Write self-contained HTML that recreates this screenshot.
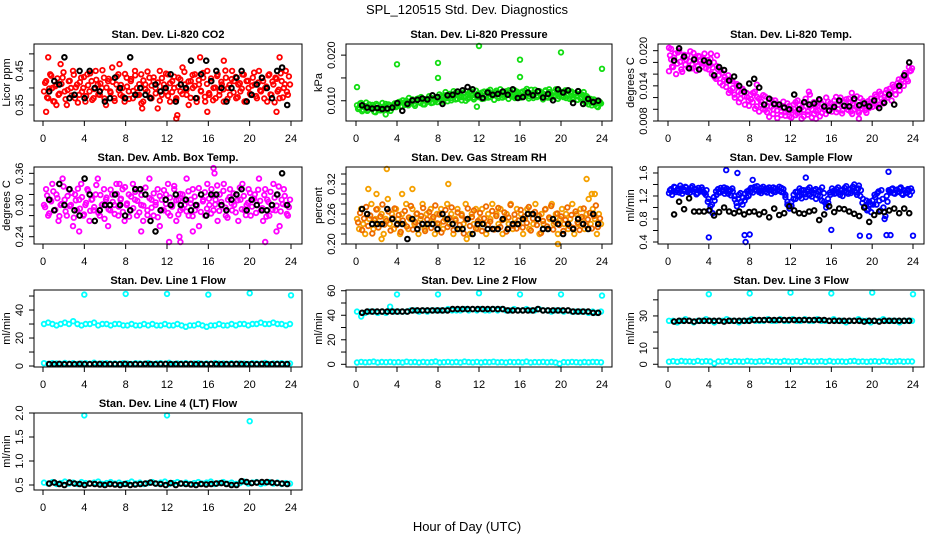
<!DOCTYPE html>
<html><head><meta charset="utf-8"><title>SPL_120515 Std. Dev. Diagnostics</title>
<style>
html,body{margin:0;padding:0;background:#fff;}
svg{display:block;font-family:"Liberation Sans",Arial,sans-serif;}
</style></head>
<body>
<svg id="chart" width="936" height="540" viewBox="0 0 936 540" xmlns="http://www.w3.org/2000/svg">
<rect x="0" y="0" width="936" height="540" fill="#fff"/>
<text x="467" y="14" font-size="13" text-anchor="middle">SPL_120515  Std. Dev. Diagnostics</text>
<text x="467" y="531" font-size="13" text-anchor="middle">Hour of Day (UTC)</text>
</svg>
<script>
// ---------- data ----------
const xTicks = [0,4,8,12,16,20,24];
// CO2
const co2Red = [0.39,0.42,0.37,0.44,0.40,0.36,0.41,0.38,0.47,0.43,0.39,0.35,0.42,0.40,0.45,0.37,0.41,0.38,0.43,0.40,
0.36,0.44,0.39,0.42,0.37,0.45,0.41,0.38,0.40,0.43,0.35,0.42,0.39,0.46,0.37,0.41,0.44,0.38,0.40,0.36,
0.43,0.39,0.42,0.37,0.45,0.40,0.38,0.44,0.36,0.41,0.39,0.43,0.37,0.42,0.40,0.34,0.45,0.38,0.41,0.39,
0.44,0.36,0.42,0.40,0.37,0.43,0.39,0.46,0.41,0.38,0.35,0.42,0.40,0.44,0.37,0.41,0.39,0.43,0.36,0.45,
0.38,0.42,0.40,0.37,0.44,0.39,0.41,0.36,0.43,0.40,0.38,0.45,0.42,0.37,0.41,0.39,0.44,0.36,0.42,0.40,
0.38,0.43,0.41,0.37,0.45,0.39,0.42,0.40,0.36,0.44,0.38,0.41,0.43,0.39,0.37,0.42,0.40,0.45,0.38,0.41];
const co2Red2 = [0.415,0.372,0.398,0.436,0.361,0.405,0.428,0.383,0.412,0.446,0.367,0.394,0.421,0.378,0.439,0.402,0.357,0.417,0.389,0.432,
0.376,0.408,0.443,0.365,0.397,0.424,0.381,0.413,0.452,0.369,0.401,0.427,0.386,0.418,0.362,0.434,0.393,0.409,0.375,0.441,
0.404,0.368,0.426,0.391,0.437,0.379,0.411,0.355,0.422,0.396,0.448,0.373,0.407,0.431,0.384,0.416,0.363,0.429,0.399,0.442,
0.377,0.414,0.388,0.433,0.366,0.403,0.425,0.382,0.447,0.395,0.419,0.371,0.438,0.406,0.359,0.423,0.392,0.444,0.374,0.412,
0.385,0.428,0.364,0.401,0.435,0.379,0.418,0.396,0.451,0.368,0.409,0.426,0.387,0.432,0.373,0.414,0.398,0.439,0.361,0.421,
0.383,0.407,0.445,0.376,0.416,0.393,0.429,0.369,0.404,0.437,0.381,0.419,0.358,0.427,0.395,0.443,0.372,0.411,0.389,0.434];
const co2OutH = [0.3,0.5,1.3,7.4,9.6,12.9,13.0,15.2,15.9,17.5,22.6,22.9];
const co2OutV = [0.33,0.49,0.35,0.47,0.34,0.31,0.32,0.49,0.33,0.48,0.33,0.49];
const co2Black = [0.39,0.42,0.41,0.49,0.37,0.38,0.45,0.37,0.45,0.40,0.39,0.36,0.37,0.43,0.40,0.37,0.49,0.38,0.40,0.38,0.37,0.41,0.39,0.40,0.44,0.36,0.41,0.40,0.48,0.37,0.44,0.48,0.42,0.45,0.40,0.36,0.40,0.43,0.45,0.36,0.38,0.41,0.43,0.40,0.37,0.45,0.46,0.35];
// Pressure
const presGreen = [0.0090,0.0085,0.0095,0.0080,0.0088,0.0078,0.0092,0.0083,0.0087,0.0075,0.0090,0.0082,0.0086,0.0079,0.0093,0.0081,0.0088,0.0084,0.0091,0.0086,
0.0092,0.0098,0.0088,0.0095,0.0100,0.0090,0.0097,0.0103,0.0093,0.0099,0.0105,0.0095,0.0101,0.0092,0.0104,0.0098,0.0107,0.0096,0.0102,0.0108,
0.0105,0.0110,0.0098,0.0112,0.0106,0.0115,0.0101,0.0109,0.0117,0.0104,0.0112,0.0108,0.0118,0.0100,0.0113,0.0107,0.0120,0.0103,0.0111,0.0116,
0.0110,0.0118,0.0105,0.0114,0.0121,0.0108,0.0116,0.0112,0.0122,0.0106,0.0115,0.0119,0.0109,0.0117,0.0123,0.0111,0.0114,0.0106,0.0120,0.0113,
0.0118,0.0108,0.0122,0.0114,0.0110,0.0124,0.0106,0.0117,0.0112,0.0121,0.0109,0.0115,0.0123,0.0107,0.0119,0.0113,0.0110,0.0125,0.0104,0.0116,
0.0112,0.0120,0.0106,0.0115,0.0118,0.0103,0.0114,0.0110,0.0121,0.0105,0.0113,0.0098,0.0110,0.0092,0.0104,0.0096,0.0101,0.0088,0.0099,0.0094];
const presGreen2 = [0.0082,0.0094,0.0077,0.0089,0.0096,0.0080,0.0085,0.0091,0.0076,0.0093,0.0084,0.0079,0.0095,0.0087,0.0081,0.0092,0.0078,0.0090,0.0094,0.0089,
0.0097,0.0087,0.0101,0.0091,0.0096,0.0106,0.0094,0.0099,0.0089,0.0104,0.0097,0.0108,0.0092,0.0103,0.0099,0.0110,0.0095,0.0105,0.0100,0.0097,
0.0114,0.0102,0.0108,0.0119,0.0099,0.0111,0.0106,0.0121,0.0103,0.0115,0.0110,0.0101,0.0116,0.0109,0.0104,0.0119,0.0112,0.0107,0.0122,0.0108,
0.0116,0.0104,0.0120,0.0111,0.0107,0.0124,0.0113,0.0102,0.0118,0.0110,0.0125,0.0107,0.0114,0.0121,0.0104,0.0118,0.0109,0.0123,0.0112,0.0117,
0.0107,0.0120,0.0113,0.0126,0.0105,0.0116,0.0111,0.0124,0.0108,0.0119,0.0114,0.0103,0.0121,0.0110,0.0125,0.0106,0.0118,0.0112,0.0122,0.0109,
0.0119,0.0108,0.0123,0.0111,0.0104,0.0120,0.0107,0.0117,0.0102,0.0115,0.0108,0.0119,0.0095,0.0107,0.0099,0.0090,0.0103,0.0093,0.0086,0.0097];
const presOutH = [0.1,4.0,8.0,8.0,12.0,16.0,16.0,20.0,24.0,2.9,11.8];
const presOutV = [0.0130,0.0180,0.0183,0.0150,0.0220,0.0190,0.0152,0.0206,0.0170,0.0070,0.0087];
const presBlack = [0.0090,0.0085,0.0083,0.0084,0.0082,0.0083,0.0085,0.0095,0.0078,0.0093,0.0101,0.0102,0.0105,0.0103,0.0112,0.0108,0.0093,0.0112,0.0113,0.0120,0.0123,0.0130,0.0125,0.0112,0.0106,0.0118,0.0113,0.0115,0.0120,0.0113,0.0125,0.0106,0.0108,0.0118,0.0112,0.0121,0.0107,0.0115,0.0101,0.0125,0.0118,0.0123,0.0095,0.0121,0.0093,0.0104,0.0097,0.0100];
// Li-820 Temp
const tempMag = [0.0165,0.0185,0.0172,0.0195,0.0178,0.0200,0.0168,0.0188,0.0176,0.0192,0.0182,0.0170,0.0196,0.0180,0.0174,0.0190,0.0178,0.0186,0.0170,0.0184,
0.0175,0.0160,0.0180,0.0152,0.0168,0.0145,0.0162,0.0150,0.0138,0.0158,0.0132,0.0148,0.0125,0.0140,0.0130,0.0118,0.0135,0.0122,0.0128,0.0115,
0.0125,0.0112,0.0130,0.0105,0.0118,0.0108,0.0100,0.0122,0.0095,0.0112,0.0104,0.0092,0.0115,0.0098,0.0108,0.0090,0.0102,0.0095,0.0110,0.0088,
0.0098,0.0108,0.0090,0.0115,0.0095,0.0103,0.0088,0.0112,0.0096,0.0125,0.0100,0.0092,0.0108,0.0098,0.0115,0.0094,0.0104,0.0120,0.0097,0.0110,
0.0102,0.0115,0.0095,0.0108,0.0120,0.0098,0.0112,0.0104,0.0118,0.0096,0.0110,0.0100,0.0122,0.0094,0.0106,0.0114,0.0098,0.0110,0.0102,0.0118,
0.0112,0.0125,0.0105,0.0130,0.0118,0.0110,0.0128,0.0120,0.0135,0.0115,0.0138,0.0125,0.0145,0.0132,0.0150,0.0140,0.0158,0.0148,0.0165,0.0170];
const tempMag2 = [0.0192,0.0173,0.0188,0.0160,0.0197,0.0181,0.0164,0.0193,0.0185,0.0171,0.0199,0.0177,0.0187,0.0166,0.0191,0.0183,0.0173,0.0195,0.0179,0.0168,
0.0186,0.0171,0.0155,0.0174,0.0158,0.0166,0.0141,0.0155,0.0146,0.0128,0.0150,0.0136,0.0120,0.0143,0.0112,0.0127,0.0133,0.0108,0.0121,0.0106,
0.0117,0.0128,0.0101,0.0121,0.0096,0.0113,0.0124,0.0099,0.0106,0.0087,0.0116,0.0100,0.0110,0.0085,0.0104,0.0096,0.0113,0.0089,0.0099,0.0106,
0.0086,0.0101,0.0112,0.0093,0.0107,0.0084,0.0099,0.0118,0.0091,0.0104,0.0086,0.0112,0.0097,0.0106,0.0088,0.0109,0.0100,0.0092,0.0113,0.0104,
0.0096,0.0108,0.0121,0.0100,0.0113,0.0093,0.0106,0.0117,0.0099,0.0112,0.0092,0.0115,0.0104,0.0097,0.0119,0.0101,0.0108,0.0094,0.0114,0.0106,
0.0104,0.0117,0.0122,0.0108,0.0126,0.0113,0.0121,0.0133,0.0124,0.0129,0.0142,0.0133,0.0139,0.0151,0.0143,0.0155,0.0162,0.0151,0.0172,0.0166];
const tempOutH = [0.1,0.3,4.2,4.8,8.7,14.5,18.7,13.8,18.0];
const tempOutV = [0.0205,0.0203,0.0195,0.0192,0.0142,0.0084,0.0084,0.0130,0.0128];
const tempBlack = [0.0183,0.0204,0.0190,0.0170,0.0185,0.0168,0.0183,0.0180,0.0158,0.0172,0.0167,0.0149,0.0156,0.0140,0.0130,0.0144,0.0152,0.0137,0.0108,0.0118,0.0109,0.0108,0.0103,0.0100,0.0125,0.0100,0.0112,0.0108,0.0110,0.0117,0.0105,0.0098,0.0104,0.0115,0.0106,0.0105,0.0118,0.0107,0.0110,0.0105,0.0115,0.0102,0.0111,0.0125,0.0108,0.0140,0.0158,0.0180];
// Amb box temp
const ambMag = [0.30,0.33,0.28,0.31,0.34,0.29,0.32,0.27,0.30,0.35,0.31,0.28,0.33,0.30,0.26,0.32,0.29,0.31,0.34,0.28,
0.30,0.33,0.27,0.31,0.29,0.32,0.35,0.28,0.30,0.33,0.31,0.26,0.29,0.32,0.30,0.34,0.28,0.31,0.33,0.27,
0.30,0.32,0.29,0.34,0.31,0.28,0.33,0.30,0.27,0.32,0.29,0.35,0.31,0.28,0.30,0.33,0.26,0.31,0.29,0.32,
0.34,0.28,0.30,0.33,0.27,0.31,0.29,0.32,0.30,0.35,0.28,0.31,0.33,0.29,0.30,0.26,0.32,0.31,0.28,0.34,
0.30,0.33,0.29,0.31,0.27,0.32,0.30,0.34,0.28,0.31,0.33,0.29,0.30,0.32,0.27,0.31,0.34,0.29,0.30,0.33,
0.28,0.31,0.32,0.30,0.35,0.29,0.27,0.33,0.31,0.28,0.30,0.34,0.29,0.32,0.26,0.31,0.33,0.30,0.28,0.31];
const ambMag2 = [0.296,0.318,0.284,0.307,0.326,0.291,0.313,0.279,0.302,0.335,0.288,0.317,0.298,0.323,0.276,0.309,0.331,0.293,0.315,0.282,
0.304,0.327,0.289,0.311,0.296,0.338,0.285,0.319,0.301,0.274,0.314,0.292,0.329,0.306,0.283,0.321,0.297,0.312,0.287,0.334,
0.303,0.278,0.316,0.294,0.325,0.308,0.286,0.319,0.299,0.333,0.281,0.313,0.295,0.322,0.305,0.277,0.317,0.291,0.328,0.302,
0.285,0.314,0.297,0.336,0.309,0.282,0.321,0.294,0.311,0.288,0.326,0.303,0.279,0.316,0.298,0.332,0.287,0.307,0.324,0.293,
0.312,0.284,0.318,0.301,0.337,0.289,0.306,0.327,0.295,0.276,0.315,0.303,0.322,0.286,0.309,0.333,0.292,0.317,0.281,0.304,
0.323,0.297,0.312,0.285,0.329,0.308,0.294,0.319,0.278,0.306,0.325,0.291,0.314,0.299,0.335,0.288,0.302,0.317,0.283,0.296];
const ambOutH = [3.5,9.5,12.2,13.2,13.3,16.5,16.6,21.5,1.6,7.4,14.5,22.6];
const ambOutV = [0.25,0.25,0.23,0.24,0.23,0.37,0.36,0.23,0.34,0.34,0.25,0.25];
const ambBlack = [0.31,0.29,0.34,0.30,0.33,0.29,0.28,0.35,0.32,0.27,0.29,0.30,0.30,0.32,0.30,0.28,0.29,0.33,0.33,0.32,0.27,0.25,0.29,0.31,0.30,0.32,0.30,0.31,0.29,0.30,0.32,0.28,0.32,0.32,0.30,0.29,0.31,0.32,0.33,0.29,0.31,0.30,0.29,0.29,0.30,0.32,0.36,0.30];
// Gas stream RH
const rhOrange = [0.25,0.23,0.27,0.24,0.22,0.26,0.25,0.28,0.23,0.25,0.27,0.24,0.26,0.22,0.25,0.29,0.24,0.26,0.23,0.27,
0.25,0.22,0.26,0.24,0.28,0.23,0.25,0.27,0.24,0.26,0.22,0.25,0.28,0.23,0.26,0.24,0.27,0.25,0.22,0.26,
0.24,0.27,0.23,0.25,0.28,0.24,0.26,0.22,0.25,0.27,0.23,0.26,0.24,0.28,0.25,0.22,0.26,0.24,0.27,0.23,
0.25,0.27,0.24,0.22,0.26,0.25,0.28,0.23,0.26,0.24,0.27,0.22,0.25,0.26,0.24,0.28,0.23,0.25,0.27,0.24,
0.26,0.22,0.25,0.27,0.23,0.26,0.24,0.28,0.25,0.22,0.26,0.24,0.27,0.23,0.25,0.28,0.24,0.26,0.22,0.25,
0.27,0.24,0.26,0.23,0.25,0.28,0.22,0.26,0.24,0.27,0.25,0.23,0.26,0.29,0.24,0.27,0.25,0.22,0.26,0.24];
const rhOrange2 = [0.243,0.262,0.228,0.251,0.274,0.236,0.257,0.221,0.248,0.269,0.233,0.255,0.279,0.239,0.246,0.265,0.227,0.252,0.271,0.238,
0.258,0.224,0.247,0.266,0.235,0.253,0.276,0.229,0.244,0.261,0.237,0.256,0.272,0.226,0.249,0.264,0.232,0.254,0.277,0.241,
0.259,0.223,0.245,0.268,0.234,0.252,0.273,0.228,0.247,0.263,0.238,0.257,0.221,0.249,0.271,0.236,0.254,0.267,0.231,0.246,
0.262,0.226,0.251,0.275,0.239,0.245,0.266,0.229,0.256,0.272,0.234,0.248,0.263,0.225,0.253,0.278,0.237,0.259,0.231,0.247,
0.268,0.233,0.255,0.242,0.274,0.227,0.251,0.264,0.238,0.257,0.222,0.246,0.269,0.235,0.253,0.276,0.229,0.244,0.261,0.238,
0.255,0.226,0.248,0.273,0.236,0.258,0.232,0.265,0.243,0.228,0.254,0.271,0.237,0.249,0.262,0.231,0.256,0.277,0.234,0.251];
const rhOutH = [1.2,2.0,3.0,4.5,5.5,9.0,22.5,23.0,23.3,19.7,2.5,10.8];
const rhOutV = [0.31,0.30,0.35,0.30,0.31,0.32,0.33,0.30,0.30,0.20,0.21,0.21];
const rhBlack = [0.27,0.26,0.24,0.24,0.24,0.27,0.25,0.24,0.24,0.21,0.25,0.23,0.24,0.24,0.24,0.23,0.26,0.25,0.24,0.23,0.23,0.25,0.22,0.24,0.24,0.23,0.23,0.23,0.25,0.23,0.24,0.24,0.25,0.26,0.26,0.25,0.23,0.23,0.25,0.24,0.22,0.24,0.23,0.25,0.24,0.23,0.26,0.24];
// Sample flow
const flowBlue = [1.25,1.32,1.28,1.35,1.30,1.26,1.33,1.29,1.36,1.27,1.31,1.34,1.28,1.32,1.25,1.30,1.35,1.27,1.22,1.10,
0.95,1.05,1.18,1.28,1.32,1.26,1.30,1.35,1.28,1.24,1.30,1.33,1.20,1.08,1.15,1.25,1.05,1.12,1.18,1.20,
1.28,1.33,1.36,1.30,1.27,1.34,1.29,1.32,1.26,1.35,1.31,1.28,1.33,1.30,1.36,1.27,1.32,1.18,1.05,0.98,
1.10,1.22,1.15,1.28,1.20,1.30,1.25,1.18,1.32,1.22,1.26,1.30,1.15,1.28,1.20,1.35,1.10,1.00,1.08,1.22,
1.28,1.24,1.32,1.26,1.30,1.20,1.34,1.27,1.31,1.25,1.36,1.28,1.22,1.38,1.30,1.15,1.02,0.95,1.10,0.92,
1.05,1.18,1.25,1.12,1.30,1.00,0.85,1.10,1.28,1.32,1.25,1.30,1.27,1.33,1.24,1.30,1.26,1.32,1.22,1.28];
const flowBlue2 = [1.30,1.22,1.36,1.27,1.33,1.38,1.24,1.31,1.35,1.29,1.26,1.37,1.32,1.23,1.34,1.28,1.31,1.25,1.30,1.15,
1.02,0.90,1.12,1.22,1.26,1.34,1.29,1.24,1.33,1.30,1.21,1.28,1.14,1.02,1.22,1.10,1.17,1.24,1.28,1.30,
1.34,1.26,1.31,1.37,1.29,1.25,1.36,1.28,1.33,1.30,1.24,1.35,1.27,1.32,1.29,1.34,1.26,1.22,1.10,1.02,
1.03,1.15,1.27,1.20,1.33,1.16,1.30,1.23,1.28,1.35,1.19,1.25,1.32,1.21,1.30,1.12,1.25,1.06,1.15,1.26,
1.33,1.29,1.25,1.35,1.22,1.31,1.28,1.37,1.24,1.32,1.29,1.40,1.26,1.33,1.20,1.08,1.00,1.12,0.97,1.05,
1.12,1.22,1.05,1.28,0.95,1.15,0.80,1.20,1.30,1.26,1.33,1.24,1.31,1.28,1.35,1.22,1.29,1.25,1.30,1.33];
const flowOutH = [4.0,5.7,6.8,7.5,7.6,8.0,8.3,13.5,16.0,18.8,19.7,21.4,21.6,21.8,24.0];
const flowOutV = [0.48,1.65,1.60,0.52,0.40,0.53,1.48,1.52,0.61,0.51,0.50,0.52,1.62,0.52,0.51];
const flowBlack = [0.88,1.10,0.97,1.16,0.93,0.93,0.93,0.95,0.86,0.92,1.00,0.93,0.90,0.93,0.88,0.92,0.93,0.88,0.92,0.83,0.98,0.87,0.90,1.02,0.95,0.90,0.89,0.93,0.95,0.78,0.88,1.02,0.92,0.98,0.97,0.93,0.89,0.85,1.00,0.75,0.87,0.93,0.92,0.95,0.98,0.90,0.98,0.90];
// Line 1
const l1Upper = [30,31,30,29,30,31,30,32,30,29,30,30,31,29,30,30,29,30,30,29,29,30,29,29,30,29,30,29,29,30,29,29,30,29,28,29,29,30,29,28,29,29,30,29,29,30,29,30,30,29,30,30,31,30,30,31,30,30,29,30];
const l1Lower = [2,1.5,2,1.8,1.5,2.2,1.6,2,1.5,1.8,2,1.6,2.4,1.5,1.8,2,1.6,1.9,1.5,2,1.7,1.5,2,1.8,1.6,2.1,1.5,1.8,2,1.6,2.3,1.5,1.9,1.7,2,1.5,1.8,2,1.6,1.9,1.5,2.1,1.7,1.8,1.5,2,1.6,1.9,1.7,1.5,2,1.8,1.6,2.2,1.5,1.9,1.7,2,1.6,1.8];
const l1OutH = [4,8,12,16,20,24];
const l1OutV = [51,51.5,51.5,51,52,50.5];
const l1Black = [1.4,1.3,1.5,1.3,1.4,1.3,1.5,1.4,1.3,1.4,1.5,1.3,1.4,1.3,1.4,1.5,1.3,1.4,1.3,1.5,1.4,1.3,1.4,1.5,1.3,1.4,1.3,1.4,1.5,1.3,1.4,1.3,1.5,1.4,1.3,1.4,1.3,1.5,1.4,1.3,1.4,1.3,1.5,1.4,1.3,1.4,1.3,1.4];
// Line 2
const l2Upper = [43,39,42,43,43,42,43,42,47,43,43,43,43,44,44,43,44,43,44,44,44,44,45,44,44,44,45,44,45,44,45,44,44,45,44,45,44,44,45,44,44,45,44,44,45,44,44,43,44,44,43,44,43,43,43,43,42,43,42,43];
const l2Lower = [1.5,2,1.6,1.8,2.2,1.5,1.9,1.7,2,1.6,1.8,1.5,2.1,1.7,1.9,1.5,2,1.6,1.8,2.3,1.5,1.7,2,1.6,1.9,1.5,2.2,1.8,1.6,2,1.5,1.9,1.7,2.1,1.6,1.8,1.5,2,1.7,1.9,1.6,2.2,1.5,1.8,1.7,2,1.6,1.9,1.5,0.5,1.8,1.6,2,1.7,1.5,1.9,1.6,2,1.8,1.6];
const l2OutH = [4,8,12,16,20,24];
const l2OutV = [57,57,58,57,57,56];
const l2Black = [42,43,43,43,43,43,43,43,43,43,44,44,44,44,44,44,44,44,45,45,45,45,45,45,45,45,45,45,45,44,44,44,44,44,44,45,44,44,44,44,44,44,43,43,43,43,42,42];
// Line 3
const l3Upper = [27,27,26,27,28,27,26,27,27,28,27,26,27,27,28,27,27,26,27,27,28,27,27,27,28,27,27,28,27,27,28,27,27,28,27,27,28,27,27,27,28,27,27,26,27,27,28,27,27,26,27,27,28,27,27,27,26,27,27,27];
const l3Lower = [1.6,1.9,1.5,2,1.7,1.8,1.5,2.1,1.6,1.9,1.7,0.5,1.8,1.6,2,1.5,1.9,1.7,1.6,2,1.8,1.5,1.9,1.7,2.1,1.6,1.8,1.5,2,1.7,1.6,1.9,1.5,2,1.8,1.6,1.7,1.9,1.5,2,1.6,1.8,1.7,1.5,1.9,2,1.6,1.8,1.5,1.7,1.9,1.6,2,1.8,1.5,1.7,1.9,1.6,1.8,1.7];
const l3OutH = [4,8,12,16,20,24];
const l3OutV = [43.5,44,44.5,44,44.5,43.5];
const l3Black = [26.5,27,27,27,26.5,27,27,27,27,27,26.5,27,27,27,27,27,27.5,27.5,27.5,27.5,27.5,27.5,27.5,27.5,27.5,27.5,27.5,27.5,27.5,27.5,27.5,27,27,27,27,27,27,27,26.5,27,27,26.5,27,27,27,27,27,27];
// Line 4
const l4Cyan = [0.55,0.53,0.56,0.52,0.54,0.57,0.53,0.55,0.52,0.56,0.54,0.53,0.55,0.57,0.52,0.54,0.56,0.53,0.55,0.52,0.54,0.57,0.53,0.55,0.52,0.54,0.56,0.53,0.55,0.57,0.52,0.54,0.56,0.53,0.55,0.52,0.54,0.56,0.53,0.55,0.57,0.52,0.54,0.56,0.53,0.55,0.52,0.54,0.57,0.53,0.55,0.56,0.52,0.54,0.56,0.53,0.55,0.52,0.54,0.53];
const l4OutH = [4,12,20];
const l4OutV = [1.95,1.95,1.83];
const l4Black = [0.53,0.55,0.52,0.50,0.55,0.53,0.52,0.50,0.53,0.52,0.51,0.50,0.52,0.51,0.50,0.52,0.50,0.51,0.52,0.53,0.55,0.53,0.52,0.50,0.54,0.50,0.53,0.52,0.51,0.50,0.52,0.51,0.52,0.53,0.54,0.52,0.50,0.50,0.58,0.56,0.54,0.55,0.56,0.56,0.55,0.54,0.53,0.52];

// ---------- layout (not data) ----------
const COLS = [{l:34,r:302,x0:43,x1:291},{l:346,r:612,x0:356,x1:602},{l:658,r:924,x0:668,x1:913}];
const ROWS = [44,167,290,413];
const BOXH = 77;
const svg = document.getElementById('chart');
const NS = 'http://www.w3.org/2000/svg';
function mk(tag, attrs, parent){ const e=document.createElementNS(NS,tag); for(const k in attrs) e.setAttribute(k,attrs[k]); (parent||svg).appendChild(e); return e; }

const panels = [
 {key:'co2',title:'Stan. Dev. Li-820 CO2',ylab:'Licor ppm',c:0,r:0,ymin:0.303,ymax:0.529,ticks:[0.35,0.40,0.45,0.50],labels:['0.35','','0.45',''],
  series:[{v:co2Red,col:'#ff0000',off:0.1},{v:co2Red2,col:'#ff0000',off:0.2}],out:{h:co2OutH,v:co2OutV,col:'#ff0000'},black:co2Black},
 {key:'pressure',title:'Stan. Dev. Li-820 Pressure',ylab:'kPa',c:1,r:0,ymin:0.00556,ymax:0.02244,ticks:[0.010,0.015,0.020],labels:['0.010','','0.020'],
  series:[{v:presGreen,col:'#11dd11',off:0.1},{v:presGreen2,col:'#11dd11',off:0.2}],out:{h:presOutH,v:presOutV,col:'#11dd11'},black:presBlack},
 {key:'li820-temp',title:'Stan. Dev. Li-820 Temp.',ylab:'degrees C',c:2,r:0,ymin:0.008,ymax:0.02114,ticks:[0.008,0.010,0.012,0.014,0.016,0.018,0.020],labels:['0.008','','','0.014','','','0.020'],
  series:[{v:tempMag,col:'#ff00ff',off:0.1},{v:tempMag2,col:'#ff00ff',off:0.2}],out:{h:tempOutH,v:tempOutV,col:'#ff00ff'},black:tempBlack},
 {key:'amb-box-temp',title:'Stan. Dev. Amb. Box Temp.',ylab:'degrees C',c:0,r:1,ymin:0.2262,ymax:0.372,ticks:[0.24,0.26,0.28,0.30,0.32,0.34,0.36],labels:['0.24','','','0.30','','','0.36'],
  series:[{v:ambMag,col:'#ff00ff',off:0.1},{v:ambMag2,col:'#ff00ff',off:0.2}],out:{h:ambOutH,v:ambOutV,col:'#ff00ff'},black:ambBlack},
 {key:'gas-stream-rh',title:'Stan. Dev. Gas Stream RH',ylab:'percent',c:1,r:1,ymin:0.20,ymax:0.354,ticks:[0.20,0.22,0.24,0.26,0.28,0.30,0.32,0.34],labels:['0.20','','','0.26','','','0.32',''],
  series:[{v:rhOrange,col:'#f5a000',off:0.1},{v:rhOrange2,col:'#ee6a00',off:0.2}],out:{h:rhOutH,v:rhOutV,col:'#f5a000'},black:rhBlack},
 {key:'sample-flow',title:'Stan. Dev. Sample Flow',ylab:'ml/min',c:2,r:1,ymin:0.365,ymax:1.704,ticks:[0.4,0.6,0.8,1.0,1.2,1.4,1.6],labels:['0.4','','0.8','','1.2','','1.6'],
  series:[{v:flowBlue,col:'#0000ff',off:0.1},{v:flowBlue2,col:'#0000ff',off:0.2}],out:{h:flowOutH,v:flowOutV,col:'#0000ff'},black:flowBlack},
 {key:'line1-flow',title:'Stan. Dev. Line 1 Flow',ylab:'ml/min',c:0,r:2,ymin:-0.7,ymax:54.3,ticks:[0,10,20,30,40,50],labels:['0','','20','','40',''],
  series:[{v:l1Upper,col:'#00ffff',off:0.1},{v:l1Lower,col:'#00ffff',off:0.1}],out:{h:l1OutH,v:l1OutV,col:'#00ffff'},black:l1Black},
 {key:'line2-flow',title:'Stan. Dev. Line 2 Flow',ylab:'ml/min',c:1,r:2,ymin:-2.2,ymax:60.6,ticks:[0,10,20,30,40,50,60],labels:['0','','20','','40','','60'],
  series:[{v:l2Upper,col:'#00ffff',off:0.1},{v:l2Lower,col:'#00ffff',off:0.1}],out:{h:l2OutH,v:l2OutV,col:'#00ffff'},black:l2Black},
 {key:'line3-flow',title:'Stan. Dev. Line 3 Flow',ylab:'ml/min',c:2,r:2,ymin:-1.7,ymax:46.1,ticks:[0,10,20,30,40],labels:['0','10','','30',''],
  series:[{v:l3Upper,col:'#00ffff',off:0.1},{v:l3Lower,col:'#00ffff',off:0.1}],out:{h:l3OutH,v:l3OutV,col:'#00ffff'},black:l3Black},
 {key:'line4-flow',title:'Stan. Dev. Line 4 (LT) Flow',ylab:'ml/min',c:0,r:3,ymin:0.396,ymax:2.0,ticks:[0.5,1.0,1.5,2.0],labels:['0.5','1.0','1.5','2.0'],
  series:[{v:l4Cyan,col:'#00ffff',off:0.1}],out:{h:l4OutH,v:l4OutV,col:'#00ffff'},black:l4Black}
];

function circ(g,x,y,col,sw){
  const c = mk('circle',{cx:x.toFixed(1),cy:y.toFixed(1),r:2.3,fill:'none',stroke:col,'stroke-width':sw||1.8},g);
  
  
}

panels.forEach(p=>{
  const C = COLS[p.c], top = ROWS[p.r], bot = top+BOXH;
  const sx = h => C.x0 + (h/24)*(C.x1-C.x0);
  const sy = v => bot - (v-p.ymin)/(p.ymax-p.ymin)*BOXH;
  const g = mk('g',{});
  
  
  const t = mk('text',{x:(C.l+C.r)/2,y:top-6,'font-size':11,'font-weight':'bold','text-anchor':'middle'},g);
  t.textContent = p.title;
  
  
  const yl = mk('text',{x:0,y:0,'font-size':11,'text-anchor':'middle',transform:`translate(${C.l-24},${top+BOXH/2}) rotate(-90)`},g);
  yl.textContent = p.ylab;
  
  
  const pts = mk('g',{},g);
  
  
  p.series.forEach(s=>{
    const n = s.v.length;
    s.v.forEach((v,i)=>{ circ(pts, sx(s.off + i*(24-2*s.off)/(n-1)), sy(v), s.col); });
  });
  p.out.h.forEach((h,i)=>circ(pts, sx(h), sy(p.out.v[i]), p.out.col));
  p.black.forEach((v,i)=>circ(pts, sx(0.6 + i*0.49), sy(v), '#000', 2));
  const box = mk('rect',{x:C.l,y:top,width:C.r-C.l,height:BOXH,fill:'none',stroke:'#000','stroke-width':1},g);
  
  
  mk('line',{x1:sx(xTicks[0]),x2:sx(xTicks[xTicks.length-1]),y1:bot,y2:bot,stroke:'#000'},g);
  xTicks.forEach(h=>{
    mk('line',{x1:sx(h),x2:sx(h),y1:bot,y2:bot+5,stroke:'#000'},g);
    const tl = mk('text',{x:sx(h),y:bot+21,'font-size':11,'text-anchor':'middle'},g);
    tl.textContent = String(h);
    
    
  });
  mk('line',{x1:C.l,x2:C.l,y1:sy(p.ticks[0]),y2:sy(p.ticks[p.ticks.length-1]),stroke:'#000'},g);
  p.ticks.forEach((v,i)=>{
    mk('line',{x1:C.l-5,x2:C.l,y1:sy(v),y2:sy(v),stroke:'#000'},g);
    if(p.labels[i]){
      const tl = mk('text',{x:0,y:0,'font-size':11,'text-anchor':'middle',transform:`translate(${C.l-11},${sy(v)}) rotate(-90)`},g);
      tl.textContent = p.labels[i];
      
      
    }
  });
});
</script>
</body></html>
